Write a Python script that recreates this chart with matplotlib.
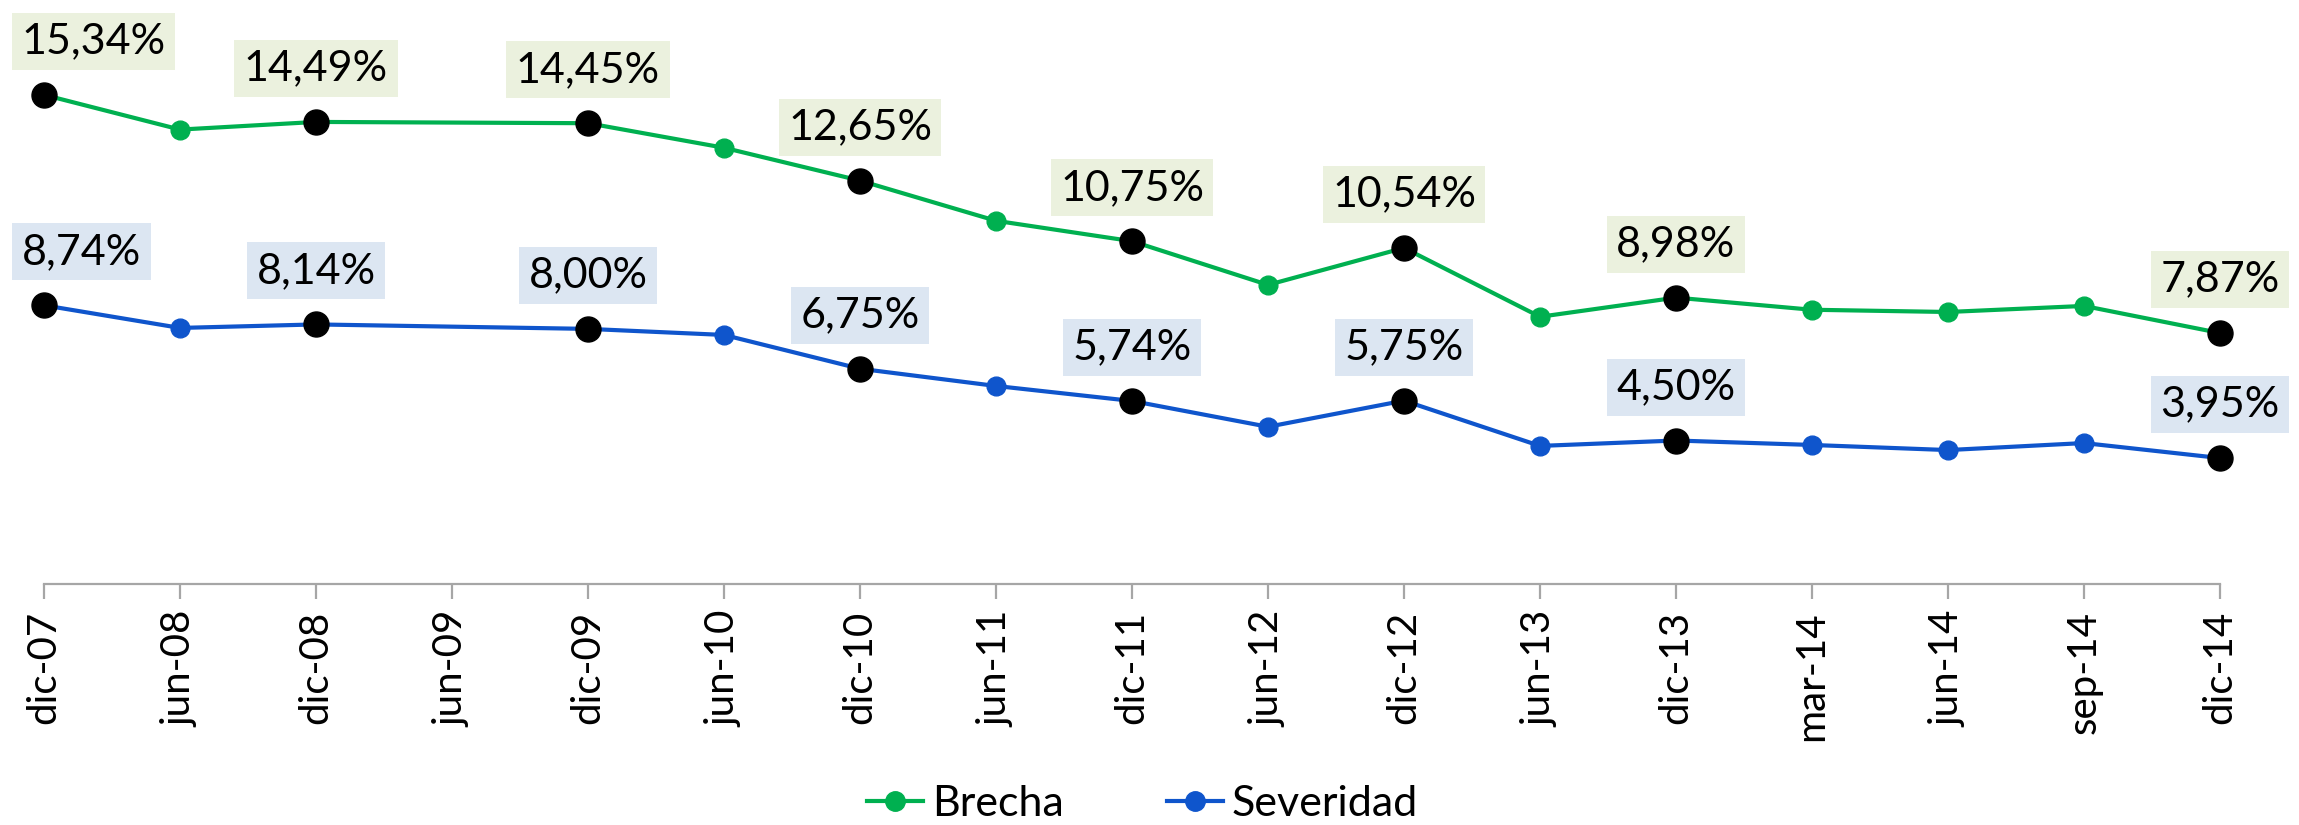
import numpy as np
import matplotlib
matplotlib.use("Agg")
import matplotlib.pyplot as plt
from matplotlib.lines import Line2D

plt.rcParams['font.family'] = ['Lato', 'DejaVu Sans']

# periods on the x axis (jun-09 has no value, the line just runs over it)
periods = ["dic-07", "jun-08", "dic-08", "jun-09", "dic-09", "jun-10", "dic-10",
           "jun-11", "dic-11", "jun-12", "dic-12", "jun-13", "dic-13", "mar-14",
           "jun-14", "sep-14", "dic-14"]
brecha = [15.34, 14.25, 14.49, np.nan, 14.45, 13.68, 12.65, 11.39, 10.75,
          9.38, 10.54, 8.38, 8.98, 8.60, 8.53, 8.72, 7.87]
severidad = [8.74, 8.03, 8.14, np.nan, 8.00, 7.81, 6.75, 6.21, 5.74,
             4.93, 5.75, 4.33, 4.50, 4.36, 4.20, 4.42, 3.95]
# december points get the black marker and a value label
labelled = ["dic-07", "dic-08", "dic-09", "dic-10", "dic-11", "dic-12", "dic-13", "dic-14"]

green = '#00B050'
blue = '#0F55CC'
green_box = '#EBF1DE'
blue_box = '#DCE6F2'
axis_grey = '#A6A6A6'


def fmt(v):
    return f"{v:.2f}".replace(".", ",") + "%"


def draw_series(ax, values, color, boxcolor):
    x = np.arange(len(periods))
    y = np.array(values, dtype=float)
    ok = ~np.isnan(y)
    ax.plot(x[ok], y[ok], color=color, lw=3, marker='o', ms=13.5,
            mec=color, mfc=color, zorder=2, clip_on=False)
    for i, p in enumerate(periods):
        if p not in labelled:
            continue
        ax.plot(x[i], y[i], 'o', color='black', ms=18, zorder=3, clip_on=False)
        if i == 0:
            ax.annotate(fmt(y[i]), (x[i], y[i]), xytext=(-16, 38.5),
                        textcoords='offset points', ha='left', va='center',
                        fontsize=31, annotation_clip=False,
                        bbox=dict(boxstyle='square,pad=0.22', fc=boxcolor, ec='none'))
        else:
            ax.annotate(fmt(y[i]), (x[i], y[i]), xytext=(0, 38.5),
                        textcoords='offset points', ha='center', va='center',
                        fontsize=31, annotation_clip=False,
                        bbox=dict(boxstyle='square,pad=0.22', fc=boxcolor, ec='none'))


fig = plt.figure(figsize=(22.99, 8.25), dpi=100)
ax = fig.add_axes([44 / 2299, 1 - 584 / 825, (2220 - 44) / 2299, 574 / 825])

draw_series(ax, brecha, green, green_box)
draw_series(ax, severidad, blue, blue_box)

ax.set_xlim(0, len(periods) - 1)
ax.set_ylim(0, 18)
ax.set_xticks(np.arange(len(periods)))
ax.set_xticklabels(periods, rotation=90, fontsize=29, va='top')
ax.set_yticks([])
for s in ['left', 'top', 'right']:
    ax.spines[s].set_visible(False)
ax.spines['bottom'].set_color(axis_grey)
ax.spines['bottom'].set_linewidth(1.6)
ax.tick_params(axis='x', length=10.5, width=1.6, color=axis_grey, pad=9)

handles = [Line2D([], [], color=green, lw=3, marker='o', ms=14),
           Line2D([], [], color=blue, lw=3, marker='o', ms=14)]
fig.legend(handles, ["Brecha", "Severidad"], loc='center', bbox_to_anchor=(0.497, 0.025),
           ncol=2, frameon=False, fontsize=31, handlelength=1.3, handletextpad=0.2,
           columnspacing=2.4)

fig.savefig("out.png", dpi=100)
